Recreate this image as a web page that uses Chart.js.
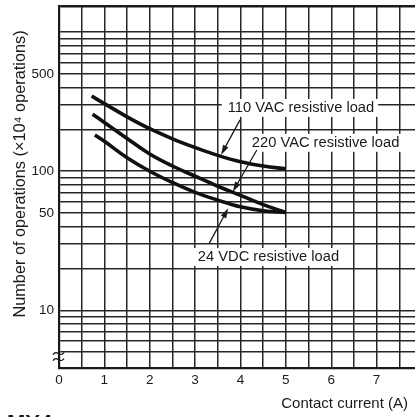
<!DOCTYPE html>
<html>
<head>
<meta charset="utf-8">
<script src="https://cdn.jsdelivr.net/npm/chart.js@4.4.0/dist/chart.umd.min.js"></script>
<style>
  html, body { margin: 0; padding: 0; background: #fff; overflow: hidden; }
  #wrap { width: 430px; height: 417px; }
</style>
</head>
<body>
<div id="wrap"><canvas id="chart" width="430" height="417"></canvas></div>
<script>
// contact current (A) vs number of operations (x10^4)
const current110 = [0.72, 1, 1.5, 2, 2.5, 3, 3.5, 4, 4.5, 5];
const ops110 = [347, 306, 246, 202, 171, 148, 130, 117, 109, 104];
const current220 = [0.74, 1, 1.5, 2, 2.5, 3, 3.5, 4, 4.5, 5];
const ops220 = [257, 224, 172, 133, 109, 92, 78, 67, 57.5, 50.5];
const current24 = [0.79, 1, 1.5, 2, 2.5, 3, 3.5, 4, 4.5, 5];
const ops24 = [182, 164, 125, 100, 83, 70.5, 62, 55.5, 52, 50.5];

const seriesNames = ['110 VAC resistive load', '220 VAC resistive load', '24 VDC resistive load'];
const xTickLabels = [0, 1, 2, 3, 4, 5, 6, 7, 8];
const yTickLabels = [10, 50, 100, 500];
const yGridValues = [5, 6, 7, 8, 9, 10, 20, 30, 40, 50, 60, 70, 80, 90, 100,
  200, 300, 400, 500, 600, 700, 800, 900, 1000];

const FONT = "'Liberation Sans', Arial, Helvetica, sans-serif";
const INK = '#1a1a1a';
const GRID = '#262626';
const Y_MIN = 3.85, Y_MAX = 1540;

function pts(xs, ys) {
  return xs.map((x, i) => ({ x: x, y: ys[i] }));
}

// callout positions in data units: label left/middle, arrow tail and head
const callouts = [
  { text: seriesNames[0], at: [3.72, 285], tail: [3.99, 234], head: [3.57, 131] },
  { text: seriesNames[1], at: [4.25, 160], tail: [4.36, 142], head: [3.83, 71.3] },
  { text: seriesNames[2], at: [3.06, 24.2], tail: [3.31, 30.3], head: [3.73, 54.2] }
];

function arrow(ctx, x1, y1, x2, y2) {
  const a = Math.atan2(y2 - y1, x2 - x1);
  const len = 10, w = 3;
  ctx.beginPath();
  ctx.moveTo(x1, y1);
  ctx.lineTo(x2 - Math.cos(a) * len * 0.8, y2 - Math.sin(a) * len * 0.8);
  ctx.stroke();
  ctx.beginPath();
  ctx.moveTo(x2, y2);
  ctx.lineTo(x2 - Math.cos(a) * len - Math.sin(a) * w, y2 - Math.sin(a) * len + Math.cos(a) * w);
  ctx.lineTo(x2 - Math.cos(a) * len + Math.sin(a) * w, y2 - Math.sin(a) * len - Math.cos(a) * w);
  ctx.closePath();
  ctx.fill();
}

const decorations = {
  id: 'decorations',
  afterDatasetsDraw(chart) {
    const ctx = chart.ctx;
    const xs = chart.scales.x, ys = chart.scales.y;
    ctx.save();
    ctx.font = '14.7px ' + FONT;
    ctx.textBaseline = 'middle';
    callouts.forEach(c => {
      const lx = xs.getPixelForValue(c.at[0]);
      const ly = ys.getPixelForValue(c.at[1]);
      const w = ctx.measureText(c.text).width;
      ctx.fillStyle = '#fff';
      ctx.fillRect(lx - 6, ly - 9, w + 10, 18);
      ctx.fillStyle = INK;
      ctx.textAlign = 'left';
      ctx.fillText(c.text, lx, ly + 0.5);
    });
    ctx.strokeStyle = INK;
    ctx.fillStyle = INK;
    ctx.lineWidth = 1.3;
    callouts.forEach(c => {
      arrow(ctx,
        xs.getPixelForValue(c.tail[0]), ys.getPixelForValue(c.tail[1]),
        xs.getPixelForValue(c.head[0]), ys.getPixelForValue(c.head[1]));
    });

    // axis break mark on the y axis
    const bx = chart.chartArea.left, by = ys.getPixelForValue(4.65);
    ctx.lineWidth = 1.4;
    [-3, 3].forEach(dy => {
      ctx.beginPath();
      ctx.moveTo(bx - 6, by + dy + 1);
      ctx.bezierCurveTo(bx - 2, by + dy - 5, bx + 1, by + dy + 5, bx + 5, by + dy - 1);
      ctx.stroke();
    });

    // axis titles
    ctx.fillStyle = INK;
    ctx.font = '15px ' + FONT;
    ctx.textAlign = 'right';
    ctx.textBaseline = 'middle';
    ctx.fillText('Contact current (A)', 408, 404);
    ctx.save();
    ctx.translate(21, 174);
    ctx.rotate(-Math.PI / 2);
    ctx.textAlign = 'center';
    ctx.font = '16.3px ' + FONT;
    ctx.fillText('Number of operations (×10⁴ operations)', 0, 0);
    ctx.restore();

    // model name, mostly below the frame
    ctx.font = 'bold 22px ' + FONT;
    ctx.textAlign = 'left';
    ctx.textBaseline = 'alphabetic';
    ctx.fillText('MY4', 7, 430);
    ctx.restore();
  }
};

const lineStyle = {
  borderColor: '#111',
  borderWidth: 3.6,
  pointRadius: 0,
  fill: false,
  tension: 0.4
};

new Chart(document.getElementById('chart'), {
  type: 'line',
  data: {
    datasets: [
      Object.assign({ label: seriesNames[0], data: pts(current110, ops110) }, lineStyle),
      Object.assign({ label: seriesNames[1], data: pts(current220, ops220) }, lineStyle),
      Object.assign({ label: seriesNames[2], data: pts(current24, ops24) }, lineStyle)
    ]
  },
  options: {
    responsive: false,
    animation: false,
    layout: { padding: { left: 0, top: 6, right: 8, bottom: 0 } },
    plugins: { legend: { display: false }, tooltip: { enabled: false } },
    scales: {
      x: {
        type: 'linear',
        min: 0,
        max: 8,
        afterFit(scale) {
          scale.height = 49;
          scale.paddingLeft = 0;
          scale.paddingRight = 0;
        },
        ticks: {
          stepSize: 0.5,
          autoSkip: false,
          maxRotation: 0,
          padding: 4,
          color: INK,
          font: { family: FONT, size: 13.5 },
          callback: v => xTickLabels.includes(v) ? String(v) : ''
        },
        grid: { color: GRID, lineWidth: 1.5, drawTicks: false },
        border: { color: INK, width: 2.2 }
      },
      y: {
        type: 'logarithmic',
        min: Y_MIN,
        max: Y_MAX,
        afterFit(scale) {
          scale.width = 59;
          scale.paddingTop = 0;
          scale.paddingBottom = 0;
        },
        afterBuildTicks(scale) {
          scale.ticks = yGridValues.concat([Y_MAX]).map(v => ({ value: v }));
        },
        ticks: {
          autoSkip: false,
          padding: 5,
          color: INK,
          font: { family: FONT, size: 13.5 },
          callback: v => yTickLabels.includes(v) ? String(v) : ''
        },
        grid: {
          color: ctx => ctx.tick && ctx.tick.value === Y_MAX ? INK : GRID,
          lineWidth: ctx => ctx.tick && ctx.tick.value === Y_MAX ? 2.4 : 1.5,
          drawTicks: false
        },
        border: { color: INK, width: 2.2 }
      }
    }
  },
  plugins: [decorations]
});
</script>
</body>
</html>
